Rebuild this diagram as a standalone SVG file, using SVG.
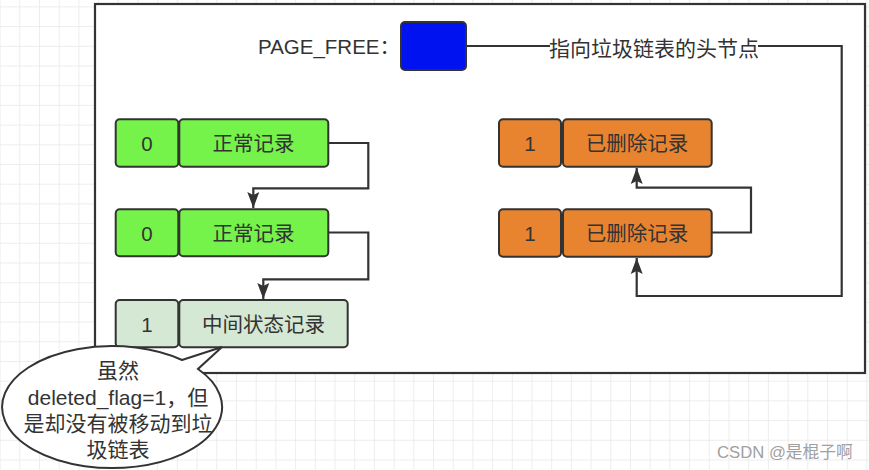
<svg xmlns="http://www.w3.org/2000/svg" width="869" height="470" viewBox="0 0 869 470">
<defs>
<pattern id="grid" patternUnits="userSpaceOnUse" x="19.3" y="6.4" width="19.7" height="19.7">
<path d="M0 0 V19.7 M0 0 H19.7" fill="none" stroke="#e8e8e8" stroke-width="1.5"/>
</pattern>
<marker id="arr" markerUnits="userSpaceOnUse" viewBox="-16 -7 17 14" refX="0" refY="0" markerWidth="17" markerHeight="14" orient="auto">
<path d="M0 0 L-16 -6 L-13 0 L-16 6 Z" fill="#333"/>
</marker>
<style>
.box{stroke:#333;stroke-width:2}
.g{fill:#76f34a}.lg{fill:#d5e8d4}.o{fill:#e8832f}
.t{font-family:"Liberation Sans","Noto Sans CJK SC",sans-serif;font-size:20.5px;fill:#333;text-anchor:middle}
.c{font-size:21px}
.ln{fill:none;stroke:#333;stroke-width:2.2}
</style>
</defs>
<rect width="869" height="470" fill="#fff"/>
<rect width="869" height="470" fill="url(#grid)"/>
<rect id="frame" x="95" y="4" width="770" height="369" fill="#fff" stroke="#333" stroke-width="2.2"/>

<g id="connectors">
<path class="ln" d="M328.3 143 H368.3 V188.3 H253.3 V208" marker-end="url(#arr)"/>
<path class="ln" d="M328.3 232.5 H368.3 V279.3 H263.3 V299" marker-end="url(#arr)"/>
<path class="ln" d="M711.7 232.5 H751 V187.7 H636.7 V168" marker-end="url(#arr)"/>
<path class="ln" d="M466 46 H841.7 V296 H636.7 V258" marker-end="url(#arr)"/>
<rect x="550" y="32" width="208" height="28" fill="#fff"/>
<text class="t c" x="654" y="55.5">指向垃圾链表的头节点</text>
</g>

<g id="page_free">
<text class="t" x="258" y="54" style="text-anchor:start">PAGE_FREE：</text>
<rect class="box" x="401" y="22" width="65" height="48" rx="4" fill="#0012f0"/>
</g>

<g id="rec1">
<rect class="box g" x="115.7" y="119.3" width="62.6" height="47.4" rx="4"/>
<rect class="box g" x="179.3" y="119.3" width="149" height="47.4" rx="4"/>
<text class="t" x="147" y="151">0</text>
<text class="t" x="253.5" y="151">正常记录</text>
</g>
<g id="rec2">
<rect class="box g" x="115.7" y="209.3" width="62.6" height="47" rx="4"/>
<rect class="box g" x="179.3" y="209.3" width="149" height="47" rx="4"/>
<text class="t" x="147" y="240.5">0</text>
<text class="t" x="253.5" y="240.5">正常记录</text>
</g>
<g id="rec3">
<rect class="box lg" x="115.7" y="300" width="62.6" height="47.3" rx="4"/>
<rect class="box lg" x="179.3" y="300" width="168.4" height="47.3" rx="4"/>
<text class="t" x="147" y="331.5">1</text>
<text class="t" x="263.5" y="331.5">中间状态记录</text>
</g>
<g id="del1">
<rect class="box o" x="499" y="119.3" width="62" height="47.4" rx="4"/>
<rect class="box o" x="563" y="119.3" width="148.7" height="47.4" rx="4"/>
<text class="t" x="530" y="151">1</text>
<text class="t" x="637" y="151">已删除记录</text>
</g>
<g id="del2">
<rect class="box o" x="499" y="209.3" width="62" height="47.4" rx="4"/>
<rect class="box o" x="563" y="209.3" width="148.7" height="47.4" rx="4"/>
<text class="t" x="530" y="240.5">1</text>
<text class="t" x="637" y="240.5">已删除记录</text>
</g>

<g id="callout">
<path d="M182 360 L222 347 L198 369 A110 61 0 1 1 182 360 Z" fill="#fff" stroke="#333" stroke-width="2"/>
<text class="t c" x="118" y="378">虽然</text>
<text class="t c" x="118" y="404.5">deleted_flag=1，但</text>
<text class="t c" x="118" y="431">是却没有被移动到垃</text>
<text class="t c" x="118" y="457">圾链表</text>
</g>

<text x="717" y="458" font-family="Liberation Sans,Noto Sans CJK SC,sans-serif" font-size="16.7" fill="#a0a0a0">CSDN @是棍子啊</text>
</svg>
